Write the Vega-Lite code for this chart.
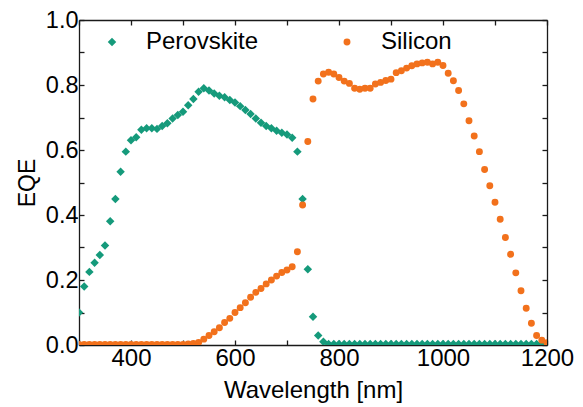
{
  "$schema": "https://vega.github.io/schema/vega-lite/v6.json",
  "width": 468,
  "height": 325,
  "autosize": "none",
  "padding": {"left": 79, "top": 20, "right": 36, "bottom": 62},
  "background": "white",
  "config": {
    "view": {"stroke": null},
    "font": "Liberation Sans",
    "axis": {
      "grid": false,
      "domainColor": "#1a1a1a",
      "domainWidth": 1.3,
      "tickColor": "#1a1a1a",
      "tickWidth": 1.3,
      "tickSize": -5,
      "labelColor": "#000",
      "titleColor": "#000",
      "labelFont": "Liberation Sans",
      "titleFont": "Liberation Sans",
      "titleFontWeight": "normal",
      "labelOverlap": false,
      "labelBound": false,
      "labelFlush": false
    }
  },
  "data": {
    "values": [
      {"wl":300,"Perovskite":0.100,"Silicon":0.002},
      {"wl":310,"Perovskite":0.180,"Silicon":0.002},
      {"wl":320,"Perovskite":0.225,"Silicon":0.002},
      {"wl":330,"Perovskite":0.253,"Silicon":0.002},
      {"wl":340,"Perovskite":0.277,"Silicon":0.002},
      {"wl":350,"Perovskite":0.306,"Silicon":0.002},
      {"wl":360,"Perovskite":0.381,"Silicon":0.002},
      {"wl":370,"Perovskite":0.449,"Silicon":0.002},
      {"wl":380,"Perovskite":0.533,"Silicon":0.002},
      {"wl":390,"Perovskite":0.595,"Silicon":0.002},
      {"wl":400,"Perovskite":0.630,"Silicon":0.002},
      {"wl":410,"Perovskite":0.639,"Silicon":0.002},
      {"wl":420,"Perovskite":0.662,"Silicon":0.002},
      {"wl":430,"Perovskite":0.667,"Silicon":0.002},
      {"wl":440,"Perovskite":0.667,"Silicon":0.002},
      {"wl":450,"Perovskite":0.665,"Silicon":0.002},
      {"wl":460,"Perovskite":0.674,"Silicon":0.002},
      {"wl":470,"Perovskite":0.682,"Silicon":0.002},
      {"wl":480,"Perovskite":0.697,"Silicon":0.002},
      {"wl":490,"Perovskite":0.708,"Silicon":0.002},
      {"wl":500,"Perovskite":0.718,"Silicon":0.002},
      {"wl":510,"Perovskite":0.738,"Silicon":0.003},
      {"wl":520,"Perovskite":0.757,"Silicon":0.005},
      {"wl":530,"Perovskite":0.779,"Silicon":0.008},
      {"wl":540,"Perovskite":0.790,"Silicon":0.018},
      {"wl":550,"Perovskite":0.783,"Silicon":0.029},
      {"wl":560,"Perovskite":0.774,"Silicon":0.041},
      {"wl":570,"Perovskite":0.767,"Silicon":0.053},
      {"wl":580,"Perovskite":0.762,"Silicon":0.069},
      {"wl":590,"Perovskite":0.754,"Silicon":0.082},
      {"wl":600,"Perovskite":0.746,"Silicon":0.100},
      {"wl":610,"Perovskite":0.735,"Silicon":0.115},
      {"wl":620,"Perovskite":0.723,"Silicon":0.130},
      {"wl":630,"Perovskite":0.711,"Silicon":0.147},
      {"wl":640,"Perovskite":0.697,"Silicon":0.162},
      {"wl":650,"Perovskite":0.684,"Silicon":0.174},
      {"wl":660,"Perovskite":0.674,"Silicon":0.188},
      {"wl":670,"Perovskite":0.667,"Silicon":0.200},
      {"wl":680,"Perovskite":0.659,"Silicon":0.212},
      {"wl":690,"Perovskite":0.653,"Silicon":0.223},
      {"wl":700,"Perovskite":0.648,"Silicon":0.231},
      {"wl":710,"Perovskite":0.638,"Silicon":0.241},
      {"wl":720,"Perovskite":0.595,"Silicon":0.287},
      {"wl":730,"Perovskite":0.449,"Silicon":0.431},
      {"wl":740,"Perovskite":0.233,"Silicon":0.626},
      {"wl":750,"Perovskite":0.087,"Silicon":0.757},
      {"wl":760,"Perovskite":0.029,"Silicon":0.812},
      {"wl":770,"Perovskite":0.010,"Silicon":0.834},
      {"wl":780,"Perovskite":0.003,"Silicon":0.839},
      {"wl":790,"Perovskite":0.003,"Silicon":0.834},
      {"wl":800,"Perovskite":0.003,"Silicon":0.823},
      {"wl":810,"Perovskite":0.003,"Silicon":0.812},
      {"wl":820,"Perovskite":0.003,"Silicon":0.805},
      {"wl":830,"Perovskite":0.003,"Silicon":0.790},
      {"wl":840,"Perovskite":0.003,"Silicon":0.787},
      {"wl":850,"Perovskite":0.003,"Silicon":0.790},
      {"wl":860,"Perovskite":0.003,"Silicon":0.790},
      {"wl":870,"Perovskite":0.003,"Silicon":0.803},
      {"wl":880,"Perovskite":0.003,"Silicon":0.808},
      {"wl":890,"Perovskite":0.003,"Silicon":0.814},
      {"wl":900,"Perovskite":0.003,"Silicon":0.818},
      {"wl":910,"Perovskite":0.003,"Silicon":0.838},
      {"wl":920,"Perovskite":0.003,"Silicon":0.844},
      {"wl":930,"Perovskite":0.003,"Silicon":0.852},
      {"wl":940,"Perovskite":0.003,"Silicon":0.859},
      {"wl":950,"Perovskite":0.003,"Silicon":0.865},
      {"wl":960,"Perovskite":0.003,"Silicon":0.868},
      {"wl":970,"Perovskite":0.003,"Silicon":0.870},
      {"wl":980,"Perovskite":0.003,"Silicon":0.865},
      {"wl":990,"Perovskite":0.003,"Silicon":0.870},
      {"wl":1000,"Perovskite":0.003,"Silicon":0.860},
      {"wl":1010,"Perovskite":0.003,"Silicon":0.836},
      {"wl":1020,"Perovskite":0.003,"Silicon":0.813},
      {"wl":1030,"Perovskite":0.003,"Silicon":0.783},
      {"wl":1040,"Perovskite":0.003,"Silicon":0.742},
      {"wl":1050,"Perovskite":0.003,"Silicon":0.690},
      {"wl":1060,"Perovskite":0.003,"Silicon":0.643},
      {"wl":1070,"Perovskite":0.003,"Silicon":0.595},
      {"wl":1080,"Perovskite":0.003,"Silicon":0.540},
      {"wl":1090,"Perovskite":0.003,"Silicon":0.490},
      {"wl":1100,"Perovskite":0.003,"Silicon":0.439},
      {"wl":1110,"Perovskite":0.003,"Silicon":0.387},
      {"wl":1120,"Perovskite":0.003,"Silicon":0.331},
      {"wl":1130,"Perovskite":0.003,"Silicon":0.279},
      {"wl":1140,"Perovskite":0.003,"Silicon":0.222},
      {"wl":1150,"Perovskite":0.003,"Silicon":0.167},
      {"wl":1160,"Perovskite":0.003,"Silicon":0.113},
      {"wl":1170,"Perovskite":0.003,"Silicon":0.067},
      {"wl":1180,"Perovskite":0.003,"Silicon":0.029},
      {"wl":1190,"Perovskite":0.003,"Silicon":0.015},
      {"wl":1200,"Perovskite":0.003,"Silicon":0.007}
    ]
  },
  "transform": [{"fold": ["Perovskite", "Silicon"], "as": ["series", "eqe"]}],
  "layer": [
    {
      "mark": {"type": "point", "filled": true, "opacity": 1, "clip": true},
      "encoding": {
        "x": {
          "field": "wl", "type": "quantitative",
          "scale": {"domain": [300, 1200], "nice": false, "zero": false},
          "axis": {
            "orient": "bottom",
            "title": "Wavelength [nm]",
            "titleFontSize": 24,
            "titlePadding": 8,
            "labelFontSize": 24,
            "labelPadding": 6,
            "values": [300,400,500,600,700,800,900,1000,1100,1200],
            "labelExpr": "datum.value % 200 == 0 ? format(datum.value, 'd') : ''"
          }
        },
        "y": {
          "field": "eqe", "type": "quantitative",
          "scale": {"domain": [0, 1], "nice": false},
          "axis": {
            "orient": "left",
            "title": "EQE",
            "titleFontSize": 23,
            "titlePadding": 6,
            "labelFontSize": 23.5,
            "labelPadding": 6,
            "values": [0,0.1,0.2,0.3,0.4,0.5,0.6,0.7,0.8,0.9,1],
            "labelExpr": "round(datum.value*10) % 2 == 0 ? format(datum.value, '.1f') : ''"
          }
        },
        "color": {
          "field": "series", "type": "nominal",
          "scale": {"domain": ["Perovskite", "Silicon"], "range": ["#159a7b", "#f2711c"]},
          "legend": {
            "title": null,
            "orient": "none",
            "legendX": 21,
            "legendY": 10,
            "direction": "horizontal",
            "padding": 0,
            "symbolSize": 64,
            "symbolStrokeWidth": 0,
            "labelFontSize": 24,
            "labelFont": "Liberation Sans",
            "labelColor": "#000",
            "labelOffset": 22,
            "columnPadding": 76
          }
        },
        "shape": {
          "field": "series", "type": "nominal",
          "scale": {"domain": ["Perovskite", "Silicon"], "range": ["diamond", "circle"]},
          "legend": {
            "title": null,
            "orient": "none",
            "legendX": 21,
            "legendY": 10,
            "direction": "horizontal",
            "padding": 0,
            "symbolSize": 64,
            "symbolStrokeWidth": 0,
            "labelFontSize": 24,
            "labelFont": "Liberation Sans",
            "labelColor": "#000",
            "labelOffset": 22,
            "columnPadding": 76
          }
        },
        "size": {
          "field": "series", "type": "nominal",
          "scale": {"domain": ["Perovskite", "Silicon"], "range": [72, 48]},
          "legend": null
        },
        "order": {"field": "series", "sort": "ascending"}
      }
    },
    {
      "mark": {"type": "point", "opacity": 0},
      "encoding": {
        "x": {
          "field": "wl", "type": "quantitative",
          "axis": {
            "orient": "top", "title": null, "labels": false,
            "values": [300,400,500,600,700,800,900,1000,1100,1200]
          }
        },
        "y": {
          "field": "eqe", "type": "quantitative",
          "axis": {
            "orient": "right", "title": null, "labels": false,
            "values": [0,0.1,0.2,0.3,0.4,0.5,0.6,0.7,0.8,0.9,1]
          }
        }
      }
    }
  ],
  "resolve": {"axis": {"x": "independent", "y": "independent"}}
}
